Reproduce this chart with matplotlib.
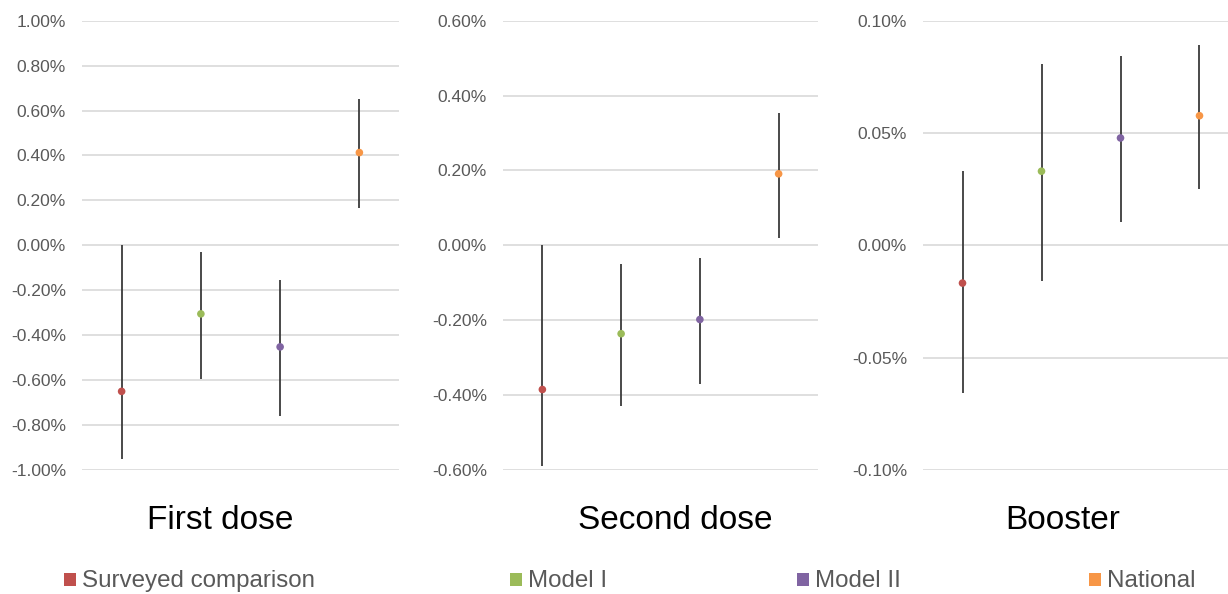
import matplotlib
matplotlib.use("Agg")
import matplotlib.pyplot as plt
from matplotlib.patches import Rectangle
from matplotlib.ticker import PercentFormatter, MultipleLocator

# values in percent
series = ["Surveyed comparison", "Model I", "Model II", "National"]
colors = ["#C0504D", "#9BBB59", "#8064A2", "#F79646"]
panels = ["First dose", "Second dose", "Booster"]

first_est = [-0.65, -0.305, -0.452, 0.413]
first_lo = [-0.953, -0.596, -0.760, 0.165]
first_hi = [0.0, -0.028, -0.154, 0.653]

second_est = [-0.385, -0.236, -0.198, 0.191]
second_lo = [-0.590, -0.430, -0.369, 0.020]
second_hi = [0.0, -0.050, -0.035, 0.354]

booster_est = [-0.0168, 0.0330, 0.0478, 0.0577]
booster_lo = [-0.0659, -0.0157, 0.0102, 0.0250]
booster_hi = [0.0330, 0.0807, 0.0844, 0.0890]

ylims = [(-1.0, 1.0), (-0.6, 0.6), (-0.1, 0.1)]
ysteps = [0.2, 0.2, 0.05]

plt.rcParams["font.family"] = ["Liberation Sans", "DejaVu Sans"]
plt.rcParams["axes.unicode_minus"] = False

fig = plt.figure(figsize=(12.28, 5.94), dpi=100)

W, H = 1228.0, 594.0
bottom = 1 - 470 / H
height = (470 - 20.7) / H
ax_lefts = [82, 503, 923]
ax_widths = [317, 315, 316]
title_x = [220.5, 675, 1063]

data = [(first_est, first_lo, first_hi),
        (second_est, second_lo, second_hi),
        (booster_est, booster_lo, booster_hi)]

for k in range(3):
    ax = fig.add_axes([ax_lefts[k] / W, bottom, ax_widths[k] / W, height])
    est, lo, hi = data[k]
    xs = list(range(len(series)))
    yerr = [[e - l for e, l in zip(est, lo)], [h - e for e, h in zip(est, hi)]]
    ax.errorbar(xs, est, yerr=yerr, fmt="none", ecolor="#3a3a3a",
                elinewidth=1.3, capsize=0, zorder=2)
    ax.scatter(xs, est, c=colors, s=30, edgecolors="none", zorder=3)
    ax.set_xlim(-0.5, 3.5)
    ax.set_ylim(*ylims[k])
    ax.yaxis.set_major_locator(MultipleLocator(ysteps[k]))
    ax.yaxis.set_major_formatter(PercentFormatter(xmax=100, decimals=2))
    ax.set_xticks([])
    ax.tick_params(axis="y", length=0, pad=11.5, labelsize=12.5, labelcolor="#595959")
    ax.grid(axis="y", color="#d9d9d9", linewidth=1.2, zorder=0)
    ax.set_axisbelow(True)
    for s in ax.spines.values():
        s.set_visible(False)
    fig.text(title_x[k] / W, 1 - 529 / H, panels[k], ha="center", va="baseline",
             fontsize=24, color="black")

# legend along the bottom edge
leg_x = [64, 510, 797, 1089]
for name, c, x in zip(series, colors, leg_x):
    fig.add_artist(Rectangle((x / W, 1 - 586 / H), 12 / W, 13 / H,
                             transform=fig.transFigure, facecolor=c,
                             edgecolor="none"))
    fig.text((x + 18) / W, 1 - 587 / H, name, ha="left", va="baseline",
             fontsize=17.4, color="#595959")

fig.savefig("out.png", dpi=100)
